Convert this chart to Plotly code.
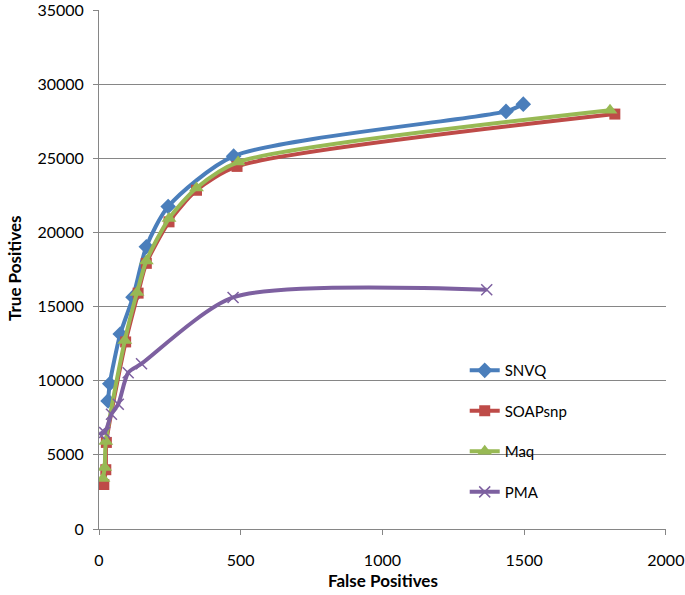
import plotly.graph_objects as go

# SNVQ
snvq_fp = [32, 38, 75, 120, 167, 244, 475, 1436, 1497]
snvq_tp = [8640, 9800, 13150, 15640, 19040, 21750, 25150, 28170, 28660]
# SOAPsnp
soap_fp = [17, 24, 26, 94, 138, 167, 247, 344, 487, 1820]
soap_tp = [3000, 4000, 5840, 12620, 15910, 17920, 20720, 22850, 24460, 27990]
# Maq
maq_fp = [14, 20, 24, 91, 134, 167, 247, 344, 491, 1803]
maq_tp = [3400, 4150, 5900, 12710, 15950, 18080, 20940, 23000, 24750, 28250]
# PMA
pma_fp = [2, 20, 44, 68, 103, 150, 473, 1368]
pma_tp = [6420, 6510, 7745, 8420, 10540, 11150, 15620, 16140]

x_ticks = [0, 500, 1000, 1500, 2000]
y_ticks = [0, 5000, 10000, 15000, 20000, 25000, 30000, 35000]

FONT = "Lato"
fig = go.Figure()

def add(name, xs, ys, color, symbol, size, group, mline=None):
    marker = dict(symbol=symbol, size=size, color=color)
    if mline is not None:
        marker["line"] = mline
    fig.add_trace(go.Scatter(
        x=xs, y=ys, name=name, mode="lines+markers",
        line=dict(color=color, width=4, shape="spline", smoothing=0.7),
        marker=marker, legendgroup=group,
    ))

add("SNVQ", snvq_fp, snvq_tp, "#4A7EBB", "diamond", 12, "g1")
add("SOAPsnp", soap_fp, soap_tp, "#BE4B48", "square", 11, "g2")
add("Maq", maq_fp, maq_tp, "#98B954", "triangle-up", 13, "g3")
add("PMA", pma_fp, pma_tp, "#7D60A0", "x-thin", 11, "g4",
    mline=dict(color="#7D60A0", width=1.5))

axis_common = dict(
    showline=True, linecolor="#868686", linewidth=1,
    ticks="outside", tickcolor="#868686", ticklen=5,
    tickfont=dict(family=FONT, size=16, color="#000000"),
    zeroline=False, automargin=False, ticklabeloverflow="allow",
)

fig.update_layout(
    width=685, height=595,
    margin=dict(l=99, r=19, t=10, b=66),
    paper_bgcolor="white", plot_bgcolor="white",
    font=dict(family=FONT, color="#000000"),
    xaxis=dict(
        range=[0, 2000.5], tickvals=x_ticks, ticktext=[str(v) for v in x_ticks],
        showgrid=False, ticklabelstandoff=12,
        **axis_common,
    ),
    yaxis=dict(
        range=[0, 35010], tickvals=y_ticks, ticktext=[str(v) for v in y_ticks],
        showgrid=True, gridcolor="#868686", gridwidth=1, ticklabelstandoff=6,
        **axis_common,
    ),
    legend=dict(
        x=0.645, y=0.337, xanchor="left", yanchor="top",
        font=dict(family=FONT, size=15, color="#000000"),
        tracegroupgap=18, bgcolor="rgba(0,0,0,0)", borderwidth=0,
    ),
    annotations=[
        dict(text="<b>False Positives</b>", xref="paper", yref="paper",
             x=(383 - 99) / 567, y=-(580 - 529) / 519, xanchor="center", yanchor="middle",
             showarrow=False, font=dict(family=FONT, size=17, color="#000000")),
        dict(text="<b>True Positives</b>", xref="paper", yref="paper",
             x=-(99 - 14) / 567, y=(529 - 268) / 519, xanchor="center", yanchor="middle",
             textangle=-90, showarrow=False, font=dict(family=FONT, size=17, color="#000000")),
    ],
)

fig.write_html("out.html", config={"displayModeBar": False},
               post_script="document.body.style.margin='0';")
